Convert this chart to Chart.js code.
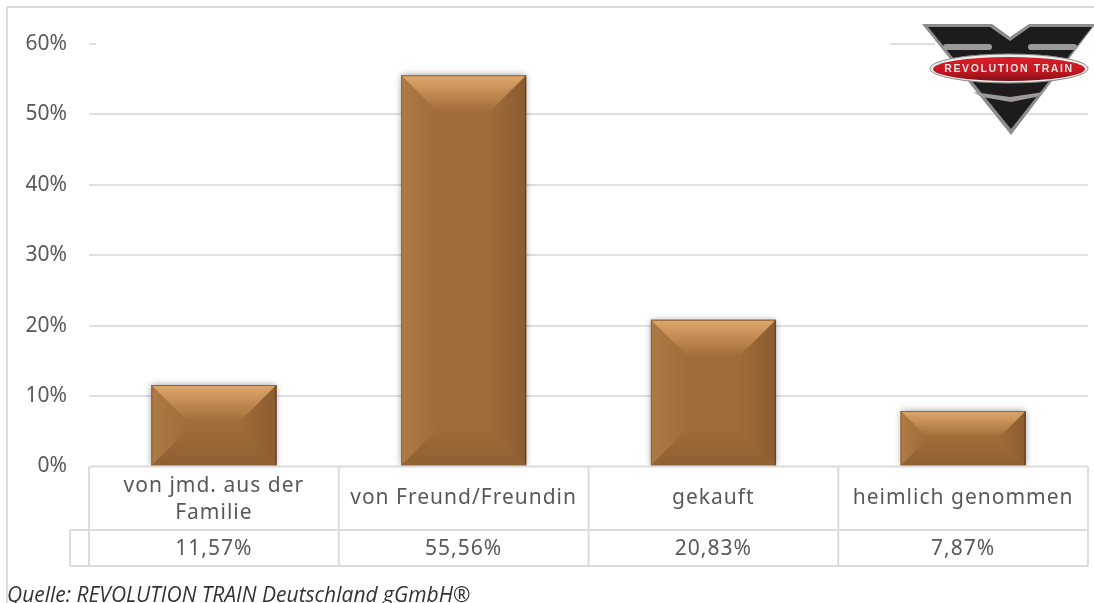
<!DOCTYPE html>
<html><head><meta charset="utf-8">
<script src="https://cdn.jsdelivr.net/npm/chart.js@4/dist/chart.umd.min.js"></script>
<style>html,body{margin:0;padding:0;background:#fff;overflow:hidden}#w{position:relative;width:1094px;height:603px}canvas{display:block}</style>
</head><body><div id="w"><canvas id="c" width="1094" height="603"></canvas></div>
<script>
const categories = [["von jmd. aus der","Familie"],["von Freund/Freundin"],["gekauft"],["heimlich genommen"]];
const shares = [11.57, 55.56, 20.83, 7.87];
const shareLabels = ["11,57%","55,56%","20,83%","7,87%"];
const yTicks = [0,10,20,30,40,50,60];
const sourceNote = "Quelle: REVOLUTION TRAIN Deutschland gGmbH®";
const logoText = "REVOLUTION TRAIN";
const GRID = '#e0e0e0', TXT = '#595959', CENTER='#a06c38';

const decor = {
 id:'decor',
 beforeDraw(ch){
  const c=ch.ctx; c.save();
  c.fillStyle='#fff'; c.fillRect(0,0,1094,603);
  c.fillStyle='#dcdcdc';
  c.fillRect(6,7,2,596); c.fillRect(6,6,1088,2);
  c.restore();
 },
 beforeDatasetsDraw(ch){
  const c=ch.ctx; c.save();
  c.fillStyle='#fff';
  c.fillRect(96,40,794,8);
  c.fillRect(935,40,159,8);
  ch.getDatasetMeta(0).data.forEach(el=>{
   c.save();
   c.shadowColor='rgba(0,0,0,.4)'; c.shadowBlur=7; c.shadowOffsetX=0; c.shadowOffsetY=0;
   c.fillStyle=CENTER; c.fillRect(el.x-el.width/2,el.y,el.width,el.base-el.y);
   c.restore();
  });
  c.restore();
 },
 afterDatasetsDraw(ch){
  const c=ch.ctx, meta=ch.getDatasetMeta(0);
  meta.data.forEach(el=>{
   const l=el.x-el.width/2, r=el.x+el.width/2, t=el.y, b=el.base, h=b-t, d=Math.min(37,h/2-1);
   c.save();
   let g=c.createLinearGradient(l,0,l+d,0); g.addColorStop(0,'#ad7b45'); g.addColorStop(1,CENTER);
   c.fillStyle=g; c.beginPath(); c.moveTo(l,t); c.lineTo(l+d,t+d); c.lineTo(l+d,b-d); c.lineTo(l,b); c.closePath(); c.fill();
   g=c.createLinearGradient(r-d,0,r,0); g.addColorStop(0,CENTER); g.addColorStop(1,'#8a5c30');
   c.fillStyle=g; c.beginPath(); c.moveTo(r,t); c.lineTo(r-d,t+d); c.lineTo(r-d,b-d); c.lineTo(r,b); c.closePath(); c.fill();
   g=c.createLinearGradient(0,t,0,t+d); g.addColorStop(0,'#dfa86c'); g.addColorStop(1,CENTER);
   c.fillStyle=g; c.beginPath(); c.moveTo(l,t); c.lineTo(r,t); c.lineTo(r-d,t+d); c.lineTo(l+d,t+d); c.closePath(); c.fill();
   g=c.createLinearGradient(0,b-d,0,b); g.addColorStop(0,CENTER); g.addColorStop(1,'#8e6033');
   c.fillStyle=g; c.beginPath(); c.moveTo(l,b); c.lineTo(r,b); c.lineTo(r-d,b-d); c.lineTo(l+d,b-d); c.closePath(); c.fill();
   c.lineWidth=1.5;
   c.strokeStyle='#6a4621'; c.beginPath(); c.moveTo(r-.5,t); c.lineTo(r-.5,b); c.stroke();
   c.lineWidth=1;
   c.strokeStyle='#8f6436'; c.beginPath(); c.moveTo(l+.5,t); c.lineTo(l+.5,b); c.moveTo(l,t+.5); c.lineTo(r,t+.5); c.stroke();
   c.restore();
  });
 },
 afterDraw(ch){
  const c=ch.ctx, a=ch.chartArea, y0=ch.scales.y.getPixelForValue(0);
  const x=ch.scales.x, step=x.getPixelForValue(1)-x.getPixelForValue(0);
  const L=a.left, R=a.right;
  c.save();
  const T=y0, M=530, B=566;
  c.fillStyle='#fff'; c.fillRect(L,T,R-L,B-T);
  c.strokeStyle='#dcdcdc'; c.lineWidth=2;
  c.beginPath();
  c.moveTo(L,T); c.lineTo(R,T);
  c.moveTo(70,M); c.lineTo(R,M);
  c.moveTo(70,B); c.lineTo(R,B);
  c.moveTo(70,M); c.lineTo(70,B);
  for(let i=0;i<=categories.length;i++){const px=L+i*step; c.moveTo(px,T); c.lineTo(px,B);}
  c.stroke();
  c.fillStyle=TXT; c.textAlign='center'; c.textBaseline='middle';
  try{c.letterSpacing='1px';}catch(e){}
  categories.forEach((ls,i)=>{
   const cx=x.getPixelForValue(i), lh=27, s=(ls.length>1?500:498)-(ls.length-1)*lh/2;
   c.font='21px "Noto Sans"';
   ls.forEach((t,j)=>c.fillText(t,cx,s+j*lh));
   c.fillText(shareLabels[i],cx,549);
  });
  try{c.letterSpacing='0px';}catch(e){}
  c.textAlign='left'; c.fillStyle='#333'; c.font='italic 21px "Open Sans"';
  c.fillText(sourceNote,7,596);
  // logo
  c.fillStyle='#8d8d8d';
  c.beginPath();c.moveTo(922,24);c.lineTo(992,24);c.lineTo(1010,37);c.lineTo(1029,24);c.lineTo(1094,24);c.lineTo(1094,26);c.lineTo(1011,135);c.closePath();c.fill();
  c.fillStyle='#1d1b1c';
  c.beginPath();c.moveTo(928,27);c.lineTo(990,27);c.lineTo(1010,41);c.lineTo(1030,27);c.lineTo(1092,27);c.lineTo(1011,129);c.closePath();c.fill();
  c.fillStyle='#9a9a9a';
  c.beginPath();c.roundRect(943,44,49,6,3);c.fill();
  c.beginPath();c.roundRect(1028,44,49,6,3);c.fill();
  c.beginPath();c.moveTo(973,92);c.lineTo(1010,97);c.lineTo(1044,92);c.lineTo(1036,97);c.lineTo(1011,102);c.lineTo(982,97);c.closePath();c.fill();
  c.fillStyle='#eee';c.strokeStyle='#888';c.lineWidth=1;
  c.beginPath();c.ellipse(1009,68.5,79,14.5,0,0,Math.PI*2);c.fill();c.stroke();
  const rg=c.createLinearGradient(0,57,0,81);rg.addColorStop(0,'#d8202a');rg.addColorStop(.6,'#c4161f');rg.addColorStop(1,'#7e1217');
  c.fillStyle=rg;c.beginPath();c.ellipse(1009,69,76,12,0,0,Math.PI*2);c.fill();
  c.fillStyle='#e4e4e4';c.textAlign='center';c.font='bold 10.5px "Liberation Sans"';
  try{c.letterSpacing='1.6px';}catch(e){}
  c.fillText(logoText,1009,69);
  c.restore();
 }
};
new Chart(document.getElementById('c'),{
 type:'bar',
 data:{labels:categories,datasets:[{data:shares,backgroundColor:CENTER,barPercentage:1,categoryPercentage:0.5,borderWidth:0}]},
 options:{
  responsive:false,animation:false,
  layout:{padding:{left:0,right:6,top:44,bottom:136.5}},
  plugins:{legend:{display:false},tooltip:{enabled:false}},
  scales:{
   x:{position:'bottom',ticks:{display:false},grid:{display:false},border:{display:false},afterFit(s){s.height=0;}},
   y:{min:0,max:60,afterBuildTicks(s){s.ticks=yTicks.map(v=>({value:v}));},
      afterFit(s){s.width=89;},
      ticks:{color:TXT,font:{family:'"Noto Sans"',size:21},padding:22,callback:v=>v+'%'},
      grid:{color:GRID,lineWidth:2,drawTicks:false},border:{display:false}}
  }
 },
 plugins:[decor]
});
</script></body></html>
